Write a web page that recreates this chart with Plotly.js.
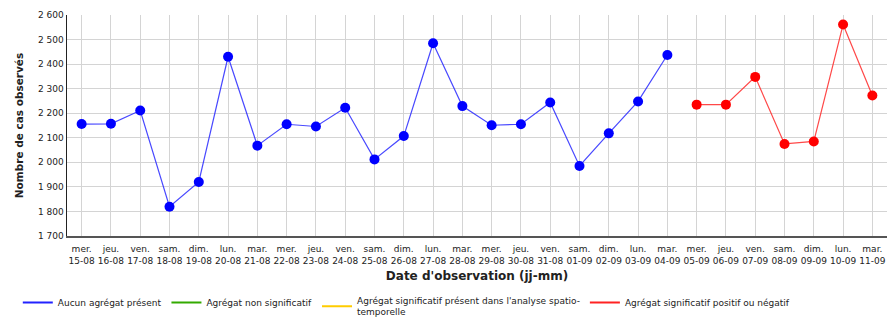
<!DOCTYPE html>
<html><head><meta charset="utf-8">
<script src="https://cdn.plot.ly/plotly-3.0.1.min.js"></script>
<style>html,body{margin:0;padding:0;background:#fff}#c{width:887px;height:318px}</style>
</head><body><div id="c"></div>
<script>
const days = ["mer.","jeu.","ven.","sam.","dim.","lun.","mar.","mer.","jeu.","ven.","sam.","dim.","lun.","mar.","mer.","jeu.","ven.","sam.","dim.","lun.","mar.","mer.","jeu.","ven.","sam.","dim.","lun.","mar."];
const dates = ["15-08","16-08","17-08","18-08","19-08","20-08","21-08","22-08","23-08","24-08","25-08","26-08","27-08","28-08","29-08","30-08","31-08","01-09","02-09","03-09","04-09","05-09","06-09","07-09","08-09","09-09","10-09","11-09"];
const aucun = [2156,2157,2211,1819,1920,2430,2068,2155,2146,2222,2012,2107,2485,2229,2151,2155,2244,1985,2118,2248,2437,null,null,null,null,null,null,null];
const significatif = [null,null,null,null,null,null,null,null,null,null,null,null,null,null,null,null,null,null,null,null,null,2235,2235,2348,2075,2085,2561,2272];
const legendNames = ["Aucun agrégat présent","Agrégat non significatif","Agrégat significatif présent dans l'analyse spatio-<br>temporelle","Agrégat significatif positif ou négatif"];
const legendColors = ["#2222ff","#33aa00","#ffcc00","#ff2222"];

const cats = dates.map((d,i)=>days[i]+"<br>"+d);
const font = "DejaVu Sans, Verdana, sans-serif";
const empty = dates.map(()=>null);

const traces = [
  {x:cats,y:aucun,name:legendNames[0],mode:"lines+markers",showlegend:false,
   line:{color:"rgba(40,40,255,0.85)",width:1.2},marker:{color:"#0000ff",size:10}},
  {x:cats,y:significatif,name:legendNames[3],mode:"lines+markers",showlegend:false,
   line:{color:"rgba(255,40,40,0.85)",width:1.2},marker:{color:"#ff0000",size:10}}
];
legendNames.forEach((n,i)=>traces.push({x:cats,y:empty,name:n,mode:"lines",showlegend:true,
  line:{color:legendColors[i],width:2}}));

const layout = {
  width:887,height:318,
  margin:{l:67,r:0,t:15,b:82,autoexpand:false},
  paper_bgcolor:"#fff",plot_bgcolor:"#fff",
  separators:", ",
  font:{family:font,size:9,color:"#222"},
  showlegend:true,
  legend:{orientation:"h",x:-0.06,xanchor:"left",y:-0.235,yanchor:"top",
    font:{family:font,size:9,color:"#222"},itemwidth:30,traceorder:"normal"},
  xaxis:{type:"category",range:[-0.5,27.5],showgrid:true,gridcolor:"#d4d4d4",gridwidth:1,
    showline:true,linecolor:"#555",linewidth:1.5,ticks:"",tickangle:0,ticklabelstandoff:4,
    tickfont:{family:font,size:9,color:"#222"},
    title:{text:"Date d'observation (jj-mm)",font:{family:font,size:12,color:"#222",weight:"bold"},standoff:6}},
  yaxis:{range:[1700,2600],dtick:100,tickformat:",d",showgrid:true,gridcolor:"#d4d4d4",gridwidth:1,
    showline:true,linecolor:"#222",linewidth:1.5,ticks:"",zeroline:false,
    tickfont:{family:font,size:9,color:"#222"},
    title:{text:"Nombre de cas observés",font:{family:font,size:10.5,color:"#222",weight:"bold"},standoff:12}}
};
Plotly.newPlot("c",traces,layout,{displayModeBar:false,staticPlot:true});
</script></body></html>
